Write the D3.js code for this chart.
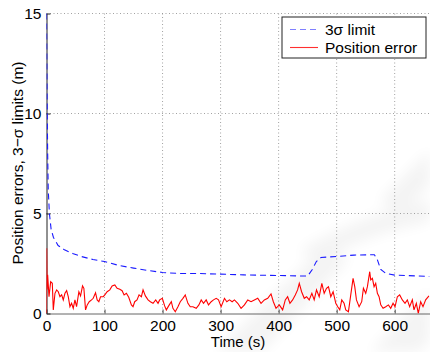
<!DOCTYPE html>
<html><head><meta charset="utf-8">
<script src="https://cdn.jsdelivr.net/npm/d3@7/dist/d3.min.js"></script>
<style>body{margin:0;background:#fff}svg{display:block}text{font-family:"Liberation Sans",Arial,sans-serif}</style>
</head><body>
<script>
// ---- data ----
const xTicks = [0,100,200,300,400,500,600];
const yTicks = [0,5,10,15];
const sigmaT = [0,1,2,3,5,8,12,20,30,45,60,80,100,125,150,175,200,230,260,300,340,400,450,458,465,473,500,530,565,570,576,585,600,660];
const sigmaV = [15,11,8,6.2,5.0,4.2,3.8,3.4,3.2,3.0,2.85,2.7,2.6,2.4,2.27,2.15,2.05,2.0,2.0,1.97,1.93,1.9,1.87,2.2,2.6,2.8,2.85,2.92,2.94,2.7,2.2,2.0,1.92,1.85];
const errT = [0,0.3,1,2.0,4.3,7.2,10.0,11.7,14.6,17.5,20.3,23.2,26.1,28.9,31.8,34.7,37.5,40.4,43.2,46.1,49.0,51.8,55.8,58.7,62.1,64.4,67.3,70.2,73.6,77.6,80.5,84.5,87.3,90.2,93.1,97.7,100.5,104.5,109.1,113.1,117.7,121.7,126.3,130.3,133.7,137.7,141.7,146.3,149.1,152.0,156.0,159.5,163.5,166.4,170.4,175.0,179.0,183.6,188.2,192.2,195.0,199.6,203.6,206.5,210.5,215.1,217.9,221.9,226.5,230.5,235.1,239.1,243.7,247.7,252.3,258.0,262.6,266.6,270.6,275.2,279.2,283.8,287.8,292.4,
  296.4,300.9,306.7,310.7,315.3,319.9,323.9,329.6,335.3,341.1,346.8,352.5,358.2,364.0,369.7,375.4,381.2,386.9,390.9,395.5,401.2,406.9,411.5,415.5,419.5,424.1,428.7,432.7,435.6,439.6,444.2,448.2,452.7,457.3,461.3,465.3,469.9,474.5,478.5,482.5,485.9,489.9,493.9,498.5,501.9,505.4,508.8,512.8,515.7,520.3,524.3,528.3,531.2,534.1,538.7,543.2,546.1,550.1,553.0,557.0,558.7,561.6,564.5,567.3,570.2,573.1,576.0,580.0,584.6,589.2,593.2,597.2,600.6,604.6,608.6,613.2,617.8,621.8,625.8,630.4,633.3,637.3,640.7,644.8,648.8,653.4,659.1];
const errV = [0,3.26,1.2,1.93,0.84,1.59,1.51,0.18,1.01,1.18,1.09,0.84,0.93,0.68,1.01,1.14,0.84,0.34,0.51,0.26,0.68,0.34,1.09,0.88,1.38,1.26,0.18,0.43,0.59,0.68,0.76,1.04,0.68,0.59,0.84,0.84,0.93,1.09,1.18,1.38,1.43,1.26,1.21,1.14,0.93,1.01,0.81,0.43,0.34,0.59,0.68,0.93,0.84,1.18,0.88,0.68,0.59,0.51,0.68,0.51,0.68,0.76,0.38,0.18,0.38,0.59,0.26,0.09,0.34,0.59,0.76,0.93,0.51,0.34,0.34,0.26,0.43,0.68,0.51,0.68,0.43,0.59,0.68,0.76,
  0.68,0.34,0.76,0.59,0.68,0.59,0.68,0.51,0.26,0.43,0.68,0.59,0.68,0.76,0.51,0.68,0.76,0.98,0.59,0.26,0.43,0.18,0.68,0.84,0.51,0.68,0.93,1.18,1.51,1.09,0.76,0.84,0.68,1.01,0.68,1.18,0.84,1.51,1.01,1.26,1.34,0.84,1.09,0.51,0.34,0.18,0.68,0.51,0.18,0.09,0.93,1.76,1.34,0.68,0.34,0.59,1.26,1.01,1.34,2.09,1.68,1.76,1.34,1.51,1.01,0.84,0.43,0.26,0.34,0.43,0.26,0.51,0.34,0.84,0.93,0.68,0.51,0.68,0.34,0.68,0.18,0.51,0.01,0.59,0.34,0.68,0.88];

// ---- layout ----
const W = 430, H = 352;
const m = {l:46.5, t:13.5, r:429.5, b:313.5};
const FS = 15.5;
const svg = d3.select("body").append("svg").attr("width",W).attr("height",H);

// faint watermark swooshes
const defs = svg.append("defs");
defs.append("filter").attr("id","blur").append("feGaussianBlur").attr("stdDeviation",7);
const wm = svg.append("g").attr("filter","url(#blur)").attr("fill","#000").attr("opacity",0.045);
wm.append("path").attr("d","M215,352 L320,250 L350,258 L262,352 Z");
wm.append("path").attr("d","M370,352 L430,290 L430,340 L420,352 Z");
wm.append("path").attr("d","M300,250 Q360,215 430,200 L430,222 Q365,235 318,262 Z");
wm.append("path").attr("d","M380,200 L430,150 L430,185 L398,215 Z");

const x = d3.scaleLinear().domain([0,660]).range([m.l,m.r]);
const y = d3.scaleLinear().domain([0,15]).range([m.b,m.t]);

// grid
const grid = svg.append("g").attr("stroke","#8a8a8a").attr("stroke-width",0.8).attr("stroke-dasharray","1,2.5");
xTicks.filter(d=>d>0).forEach(d=>grid.append("line").attr("x1",x(d)).attr("x2",x(d)).attr("y1",m.t).attr("y2",m.b));
yTicks.filter(d=>d>0).forEach(d=>grid.append("line").attr("x1",m.l).attr("x2",m.r).attr("y1",y(d)).attr("y2",y(d)));

// axes
const xAxis = d3.axisBottom(x).tickValues(xTicks).tickSizeInner(-4).tickSizeOuter(0).tickPadding(6);
const gx = svg.append("g").attr("transform",`translate(0,${m.b})`).call(xAxis);
gx.select(".domain").attr("stroke","#666");
gx.selectAll(".tick line").attr("stroke","#444");
gx.selectAll("text").attr("font-size",FS).attr("fill","#000");
const yAxis = d3.axisLeft(y).tickValues(yTicks).tickSizeInner(-4).tickSizeOuter(0).tickPadding(5);
const gy = svg.append("g").attr("transform",`translate(${m.l},0)`).call(yAxis);
gy.select(".domain").attr("stroke","#222");
gy.selectAll(".tick line").attr("stroke","#222");
gy.selectAll("text").attr("font-size",FS).attr("fill","#000");

// lines
const clip = defs.append("clipPath").attr("id","clip");
clip.append("rect").attr("x",m.l).attr("y",m.t-1).attr("width",m.r-m.l).attr("height",m.b-m.t+1);
const line = d3.line().x(d=>x(d[0])).y(d=>y(d[1]));
const plot = svg.append("g").attr("clip-path","url(#clip)");
plot.append("path").datum(errT.map((t,i)=>[t,errV[i]])).attr("d",line)
  .attr("fill","none").attr("stroke","#ff0000").attr("stroke-width",1.1);
plot.append("path").datum(sigmaT.map((t,i)=>[t,sigmaV[i]])).attr("d",line)
  .attr("fill","none").attr("stroke","#1a1aff").attr("stroke-width",1.1).attr("stroke-dasharray","6,4");

// labels
svg.append("text").attr("x",238).attr("y",346.5).attr("text-anchor","middle")
  .attr("font-size",15).text("Time (s)");
svg.append("text").attr("transform","translate(23,163) rotate(-90)").attr("text-anchor","middle")
  .attr("font-size",FS).text("Position errors, 3−σ limits (m)");

// legend
const lg = svg.append("g");
lg.append("rect").attr("x",282).attr("y",17).attr("width",144).attr("height",41)
  .attr("fill","#fff").attr("stroke","#222").attr("stroke-width",1);
lg.append("line").attr("x1",290).attr("x2",318).attr("y1",29.5).attr("y2",29.5)
  .attr("stroke","#8080ff").attr("stroke-width",1.1).attr("stroke-dasharray","6,4");
lg.append("line").attr("x1",290).attr("x2",318).attr("y1",47.5).attr("y2",47.5)
  .attr("stroke","#ff3030").attr("stroke-width",1.1);
lg.append("text").attr("x",325).attr("y",35).attr("font-size",FS).text("3σ limit");
lg.append("text").attr("x",325).attr("y",53).attr("font-size",FS).text("Position error");
</script>
</body></html>
